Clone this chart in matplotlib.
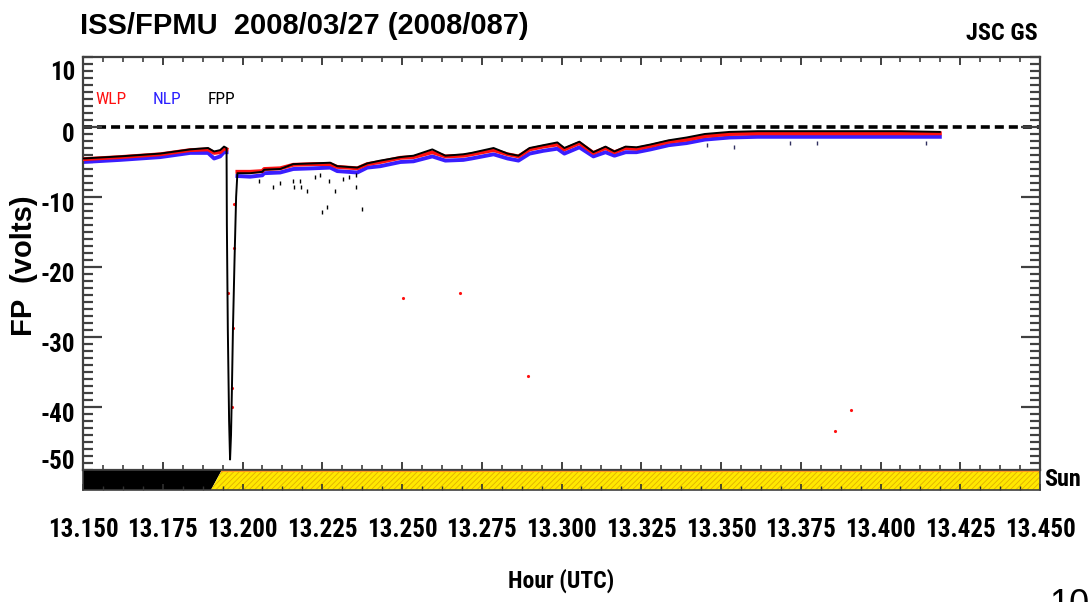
import matplotlib
matplotlib.use("Agg")
import numpy as np
import matplotlib.pyplot as plt
import matplotlib.transforms as mtransforms
from matplotlib import font_manager
from matplotlib.patches import Polygon

# FPMU floating potential, 2008/03/27, hours UTC
hours = [13.1500, 13.1616, 13.1742, 13.1836, 13.1892, 13.1911, 13.1930, 13.1942,
         13.1950, 13.1951, 13.1954, 13.1958, 13.1961, 13.1964, 13.1967, 13.1970,
         13.1975, 13.1980, 13.1984,
         13.2024, 13.2062, 13.2068, 13.2118, 13.2159, 13.2222, 13.2275, 13.2297,
         13.2360, 13.2391, 13.2432, 13.2495, 13.2536, 13.2595, 13.2636, 13.2692,
         13.2718, 13.2787, 13.2831, 13.2865, 13.2900, 13.2943, 13.2987, 13.3009,
         13.3056, 13.3100, 13.3138, 13.3166, 13.3201, 13.3235, 13.3279, 13.3336,
         13.3392, 13.3449, 13.3527, 13.3615, 13.3750, 13.3907, 13.4064, 13.4186]

nan = np.nan
wlp = [-4.6, -4.3, -3.9, -3.3, -3.2, -3.7, -3.6, -3.1,
       -3.2, nan, nan, nan, nan, nan, nan, nan,
       nan, nan, -6.4,
       -6.4, -6.3, -6.0, -5.9, -5.4, -5.3, -5.3, -5.7,
       -5.9, -5.3, -5.0, -4.4, -4.3, -3.6, -4.2, -4.1,
       -3.9, -3.3, -3.9, -4.2, -3.2, -2.8, -2.5, -3.2,
       -2.3, -3.7, -3.0, -3.6, -3.0, -3.1, -2.7, -2.1,
       -1.8, -1.3, -1.0, -0.9, -0.9, -0.9, -0.9, -0.9]

nlp = [-5.0, -4.7, -4.3, -3.7, -3.7, -4.5, -4.2, -3.6,
       -3.6, nan, nan, nan, nan, nan, nan, nan,
       nan, nan, -7.0,
       -7.1, -6.9, -6.6, -6.5, -6.0, -5.9, -5.8, -6.3,
       -6.5, -5.8, -5.6, -5.0, -4.9, -4.2, -4.8, -4.7,
       -4.5, -3.9, -4.5, -4.8, -3.8, -3.4, -3.1, -3.8,
       -2.9, -4.2, -3.6, -4.1, -3.6, -3.6, -3.2, -2.6,
       -2.3, -1.8, -1.5, -1.4, -1.4, -1.4, -1.4, -1.4]

fpp = [-4.5, -4.2, -3.8, -3.2, -3.0, -3.5, -3.3, -2.8,
       -3.0, -14.0, -29.0, -42.0, -47.5, -44.0, -37.0, -29.0,
       -19.0, -10.0, -6.6,
       -6.6, -6.4, -6.1, -6.0, -5.3, -5.2, -5.1, -5.6,
       -5.8, -5.2, -4.8, -4.3, -4.1, -3.2, -4.1, -3.9,
       -3.7, -3.0, -3.8, -4.1, -3.0, -2.6, -2.2, -3.0,
       -2.1, -3.6, -2.8, -3.5, -2.8, -2.9, -2.5, -1.9,
       -1.5, -1.0, -0.7, -0.6, -0.6, -0.6, -0.6, -0.7]

# isolated samples away from the main traces
wlp_pts_t = [13.1954, 13.1974, 13.1974, 13.1970, 13.1967, 13.1967,
             13.2504, 13.2683, 13.2896, 13.3857, 13.3907]
wlp_pts_v = [-23.7, -17.3, -11.0, -28.7, -37.3, -40.0,
             -24.4, -23.7, -35.6, -43.4, -40.4]
nlp_pts_t = [13.3455, 13.3540, 13.3715, 13.3800, 13.4142]
nlp_pts_v = [-2.6, -2.9, -2.3, -2.3, -2.3]
fpp_pts_t = [13.2052, 13.2097, 13.2116, 13.2158, 13.2162, 13.2181, 13.2184,
             13.2203, 13.2228, 13.2244, 13.2270, 13.2291, 13.2315, 13.2333,
             13.2356, 13.2357, 13.2249, 13.2266, 13.2375]
fpp_pts_v = [-7.7, -8.5, -8.0, -7.7, -8.5, -7.7, -8.5,
             -9.1, -7.1, -6.9, -7.7, -9.1, -7.4, -7.1,
             -6.9, -8.5, -12.2, -11.4, -11.7]

# eclipse -> sunlight transition (bottom edge, top edge)
sunrise = (13.1901, 13.1935)
t_min, t_max = 13.150, 13.450

xticks = [13.150, 13.175, 13.200, 13.225, 13.250, 13.275, 13.300,
          13.325, 13.350, 13.375, 13.400, 13.425, 13.450]
xlabels = ['13.150', '13.175', '13.200', '13.225', '13.250', '13.275', '13.300',
           '13.325', '13.350', '13.375', '13.400', '13.425', '13.450']
yticks = [-40, -30, -20, -10, 0]
ylabels = ['-40', '-30', '-20', '-10', '0']

# pick a narrow face for the axis annotations
fonts = font_manager.fontManager.ttflist
names = {f.name for f in fonts}
narrow = dict(fontfamily='Liberation Sans', fontstretch='normal')
nscale = 0.8
if 'Liberation Sans Narrow' in names:
    narrow = dict(fontfamily='Liberation Sans Narrow')
    nscale = 1.0
elif 'Roboto Condensed' in names:
    narrow = dict(fontfamily='Roboto Condensed')
    nscale = 1.0
elif any(f.name == 'DejaVu Sans' and str(f.stretch).startswith('condensed') for f in fonts):
    narrow = dict(fontfamily='DejaVu Sans', fontstretch='condensed')
    nscale = 0.8
arial = 'Liberation Sans' if 'Liberation Sans' in names else 'DejaVu Sans'
plt.rcParams['lines.scale_dashes'] = False
plt.rcParams['hatch.linewidth'] = 0.6

W, H = 1088, 602
fig = plt.figure(figsize=(W / 100, H / 100), dpi=100)
ax = fig.add_axes([83 / W, (H - 470) / H, 957 / W, 413 / H])
sax = fig.add_axes([83 / W, (H - 490) / H, 957 / W, 20 / H], sharex=ax)

axc = '#404040'
ax.axhline(0, color='black', lw=2.6, dashes=(6.5, 3.6), zorder=1)
ax.plot(hours, nlp, color='#3a1eff', lw=2.8, zorder=2)
ax.plot(hours, wlp, color='#ff1010', lw=2.8, zorder=3)
ax.plot(hours, fpp, color='black', lw=1.4, zorder=4)
ax.plot(nlp_pts_t, nlp_pts_v, ls='none', marker='|', ms=3, color='#303060', zorder=2)
ax.plot(wlp_pts_t, wlp_pts_v, ls='none', marker='.', ms=2.5, color='#ff1010', zorder=3)
ax.plot(fpp_pts_t, fpp_pts_v, ls='none', marker='|', ms=3, mew=1, color='black', zorder=4)

ax.set_xlim(t_min, t_max)
ax.set_ylim(-49, 10)
ax.set_xticks(xticks)
ax.set_xticks(np.arange(t_min, t_max + 1e-9, 0.00625), minor=True)
ax.set_yticks(yticks)
ax.set_yticklabels(ylabels, fontweight='bold', fontsize=18 * nscale, **narrow)
ax.set_yticks(np.arange(-49, 10.5, 1), minor=True)
ax.tick_params(axis='x', which='both', direction='in', top=True, bottom=True,
               labelbottom=False, color=axc)
ax.tick_params(axis='x', which='major', length=6, width=1.4)
ax.tick_params(axis='x', which='minor', length=3.5, width=1.2)
ax.tick_params(axis='y', which='both', direction='in', left=True, right=True,
               color=axc, pad=6)
ax.tick_params(axis='y', which='major', length=14, width=1.6)
ax.tick_params(axis='y', which='minor', length=7, width=1.6)
shift = mtransforms.ScaledTranslation(0, -0.06, fig.dpi_scale_trans)
for lbl in ax.get_yticklabels():
    lbl.set_transform(lbl.get_transform() + shift)
for s in ax.spines.values():
    s.set_color(axc)
    s.set_linewidth(1.6)

for txt, col, px in [('WLP', '#ff1010', 95), ('NLP', '#2a1eff', 153), ('FPP', 'black', 208)]:
    fig.text(px / W, 1 - 100 / H, txt, color=col, fontsize=12.5 * nscale,
             ha='left', va='center', **narrow)

# sunlight bar
sax.add_patch(Polygon([(t_min, 0), (sunrise[0], 0), (sunrise[1], 1), (t_min, 1)],
                      closed=True, facecolor='black', edgecolor='none'))
sax.add_patch(Polygon([(sunrise[0], 0), (t_max, 0), (t_max, 1), (sunrise[1], 1)],
                      closed=True, facecolor='#ffe800', edgecolor='#e0b000',
                      hatch='//////', lw=0))
sax.plot([sunrise[1], t_max], [0.97, 0.97], color='#ff9a20', lw=1.5)
sax.set_ylim(0, 1)
sax.set_yticks([])
sax.set_xticks(xticks)
sax.set_xticklabels(xlabels, fontweight='bold', fontsize=18 * nscale, **narrow)
sax.set_xticks(np.arange(t_min, t_max + 1e-9, 0.00625), minor=True)
sax.tick_params(axis='x', which='both', direction='in', bottom=True, top=False,
                color='#303030', pad=20)
sax.tick_params(axis='x', which='major', length=4, width=1.2)
sax.tick_params(axis='x', which='minor', length=3, width=1.0)
for s in sax.spines.values():
    s.set_color(axc)
    s.set_linewidth(1.2)

# labels around the frame
fig.text(75 / W, 1 - 73 / H, '10', ha='right', va='center',
         fontweight='bold', fontsize=18 * nscale, **narrow)
fig.text(75 / W, 1 - 462 / H, '-50', ha='right', va='center',
         fontweight='bold', fontsize=18 * nscale, **narrow)
fig.text(80 / W, 1 - 34 / H, 'ISS/FPMU  2008/03/27 (2008/087)', ha='left',
         va='baseline', fontfamily=arial, fontweight='bold', fontsize=21)
fig.text(1038 / W, 1 - 33 / H, 'JSC GS', ha='right', va='center',
         fontweight='bold', fontsize=17.5 * nscale, **narrow)
fig.text(1044 / W, 1 - 480 / H, 'Sun', ha='left', va='center',
         fontweight='bold', fontsize=17.5 * nscale, **narrow)
fig.text(561 / W, 1 - 581 / H, 'Hour (UTC)', ha='center', va='center',
         fontweight='bold', fontsize=17 * nscale, **narrow)
fig.text(24 / W, 1 - 266 / H, 'FP  (volts)', ha='center', va='center',
         rotation=90, fontfamily=arial, fontweight='bold', fontsize=21)
fig.text(1049 / W, 1 - 588 / H, '10', ha='left', va='top', fontfamily=arial,
         fontsize=26)

fig.savefig('out.png', dpi=100)
